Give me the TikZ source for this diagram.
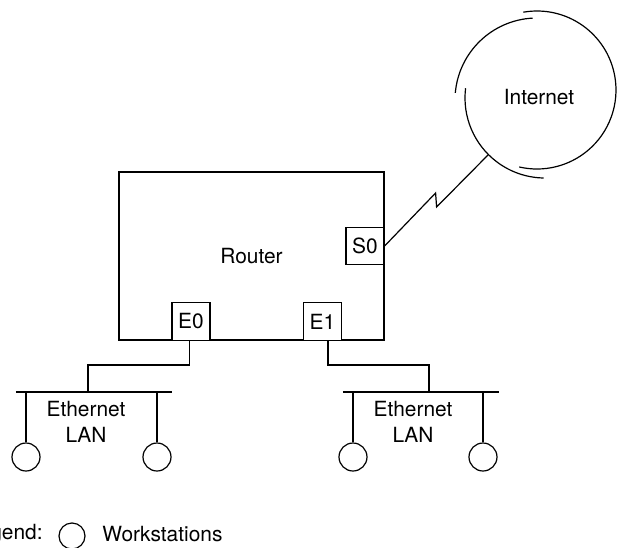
\documentclass[tikz,border=0pt]{standalone}
\usepackage{fontspec}
\setmainfont{TeX Gyre Heros}
\usetikzlibrary{calc}
\begin{document}
\begin{tikzpicture}[x=0.5pt,y=-0.5pt,
  every node/.style={font=\fontsize{10.45}{13}\selectfont},
  wire/.style={line width=0.6pt, line join=miter},
  routerbox/.style={draw, line width=0.6pt, minimum width=132.5pt, minimum height=84pt, inner sep=0pt},
  portbox/.style={draw, line width=0.6pt, fill=white, minimum width=19pt, minimum height=18.8pt, inner sep=0pt},
  ws/.style={draw, circle, line width=0.6pt, minimum size=14pt, inner sep=0pt},
  lanlabel/.style={align=center, inner sep=0pt}]
\useasboundingbox (0,0) rectangle (618,548);
\clip (0,0) rectangle (618,548);

% Router and ports
\node[routerbox] (router) at (251.5,256) {Router};
\node[portbox] (s0) at (365,246) {S0};
\node[portbox] (e0) at (191,321.5) {E0};
\node[portbox] (e1) at (322.5,321.5) {E1};

% Internet cloud
\node (inettext) at (539,97) {Internet};
\draw[wire] (537,90) ++(-100:79) arc[start angle=-100, end angle=103, radius=79];
\draw[wire] (537,100) ++(-93:82) arc[start angle=-93, end angle=-175, radius=82];
\draw[wire] (545,98) ++(187:80) arc[start angle=187, end angle=91, radius=80];
\coordinate (inet) at ($(545,98)+(135:80)$);

% Serial link with zigzag
\draw[wire] (s0.east) -- ++(51,-53) -- ++(1,14) -- (inet);

% Left Ethernet LAN
\coordinate (bus1l) at (16,392);
\coordinate (bus1r) at (172,392);
\coordinate (bus1c) at (88,392);
\draw[wire] (bus1l) -- (bus1r);
\node[ws] (w1a) at (26,457) {};
\node[ws] (w1b) at (157,457) {};
\draw[wire] (w1a.north) -- (w1a.north |- bus1l);
\draw[wire] (w1b.north) -- (w1b.north |- bus1l);
\draw[wire] ([xshift=-0.75pt]e0.south) -- ++(0,24) -| (bus1c);
\node[lanlabel] (lan1) at (86,422) {Ethernet\\LAN};

% Right Ethernet LAN
\coordinate (bus2l) at (343,392);
\coordinate (bus2r) at (499,392);
\coordinate (bus2c) at (429,392);
\draw[wire] (bus2l) -- (bus2r);
\node[ws] (w2a) at (353,457) {};
\node[ws] (w2b) at (483,457) {};
\draw[wire] (w2a.north) -- (w2a.north |- bus2l);
\draw[wire] (w2b.north) -- (w2b.north |- bus2l);
\draw[wire] ([xshift=2.75pt]e1.south) -- ++(0,24) -| (bus2c);
\node[lanlabel] (lan2) at (413,422) {Ethernet\\LAN};

% Legend
\node[anchor=east, inner sep=0pt] (legend) at (43,534) {Legend:};
\node[ws, minimum size=13pt] (legendws) at (72,536) {};
\node[anchor=west, inner sep=0pt] (legendtext) at (102,534) {Workstations};
\end{tikzpicture}
\end{document}
